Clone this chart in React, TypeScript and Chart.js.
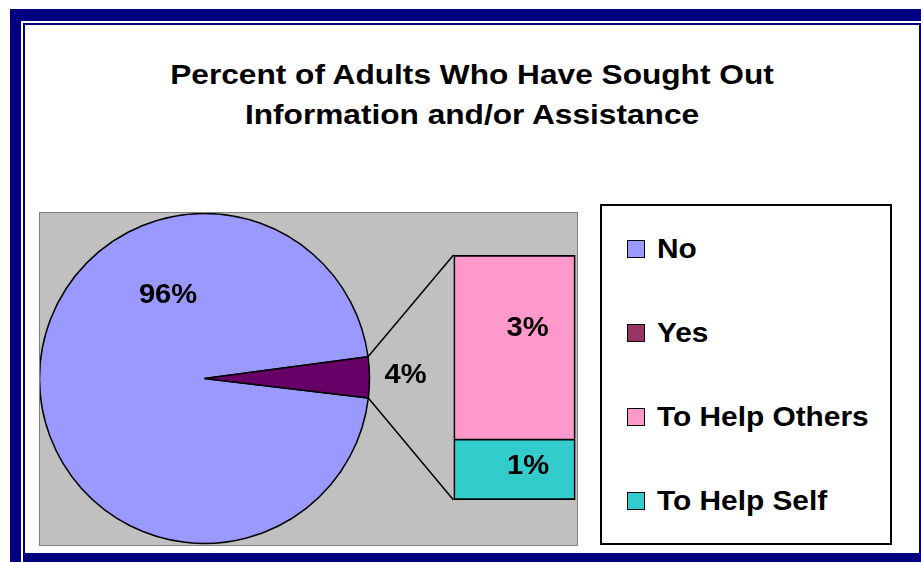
import React, { useEffect, useRef } from 'react';
import { Chart, registerables } from 'chart.js';
Chart.register(...registerables);

const titleLines = ['Percent of Adults Who Have Sought Out', 'Information and/or Assistance'];
const pieLabels = ['No', 'Yes'];
const pieValues = [96, 4];
const pieColors = ['#9999FF', '#660066'];
const barLabels = ['To Help Self', 'To Help Others'];
const barValues = [1, 3];
const barColors = ['#33CCCC', '#FF99CC'];
const legendLabels = ['No', 'Yes', 'To Help Others', 'To Help Self'];
const legendColors = ['#9999FF', '#993366', '#FF99CC', '#33CCCC'];

const FONT = '"Liberation Sans", Arial, Helvetica, sans-serif';
const NAVY = '#000080';
const PLOT_W = 537;
const PLOT_H = 332;

const pct = (v: number) => `${Math.round(v)}%`;

function drawLabel(ctx: CanvasRenderingContext2D, text: string, x: number, y: number) {
  ctx.save();
  ctx.font = `bold 28px ${FONT}`;
  ctx.fillStyle = '#000';
  ctx.textAlign = 'center';
  ctx.textBaseline = 'alphabetic';
  ctx.translate(x, y + 10);
  ctx.scale(1.04, 1);
  ctx.fillText(text, 0, 0);
  ctx.restore();
}

export default function App() {
  const pieRef = useRef<HTMLCanvasElement>(null);
  const barRef = useRef<HTMLCanvasElement>(null);

  useEffect(() => {
    if (!pieRef.current || !barRef.current) return;
    const pieLabelPlugin = {
      id: 'pieLabels',
      afterDatasetsDraw(chart: any) {
        const ctx = chart.ctx;
        const arcs = chart.getDatasetMeta(0).data;
        const p = arcs[1].getProps(['x', 'y', 'outerRadius', 'startAngle', 'endAngle'], true);
        drawLabel(ctx, pct(pieValues[0]), p.x - 0.221 * p.outerRadius, p.y - 0.518 * p.outerRadius);
        const mid = (p.startAngle + p.endAngle) / 2;
        const d = p.outerRadius + 36;
        drawLabel(ctx, pct(pieValues[1]), p.x + d * Math.cos(mid), p.y + d * Math.sin(mid) - 4);
      },
    };
    const pie = new Chart(pieRef.current, {
      type: 'pie',
      data: {
        labels: pieLabels,
        datasets: [
          {
            data: pieValues,
            backgroundColor: pieColors,
            borderColor: '#000',
            borderWidth: 1.5,
          },
        ],
      },
      options: {
        responsive: false,
        animation: false,
        events: [],
        rotation: 96.8,
        radius: 165,
        layout: { padding: { left: 0, top: 0, right: 208, bottom: 1 } },
        plugins: { legend: { display: false }, tooltip: { enabled: false } },
      } as any,
      plugins: [pieLabelPlugin],
    });

    const barPlugin = {
      id: 'barExtras',
      afterDatasetsDraw(chart: any) {
        const ctx = chart.ctx;
        const sp = chart.getDatasetMeta(0).data[0].getProps(['x', 'y', 'base', 'width'], true);
        const op = chart.getDatasetMeta(1).data[0].getProps(['x', 'y', 'base', 'width'], true);
        const left = sp.x - sp.width / 2;
        const a = pie.getDatasetMeta(0).data[1].getProps(['x', 'y', 'outerRadius', 'startAngle', 'endAngle'], true) as any;
        ctx.save();
        ctx.strokeStyle = '#000';
        ctx.lineWidth = 1.5;
        ctx.beginPath();
        ctx.moveTo(a.x + a.outerRadius * Math.cos(a.startAngle), a.y + a.outerRadius * Math.sin(a.startAngle));
        ctx.lineTo(left, op.y);
        ctx.moveTo(a.x + a.outerRadius * Math.cos(a.endAngle), a.y + a.outerRadius * Math.sin(a.endAngle));
        ctx.lineTo(left, sp.base);
        ctx.stroke();
        ctx.restore();
        drawLabel(ctx, pct(barValues[1]), op.x + 13, (op.y + op.base) / 2 - 21);
        drawLabel(ctx, pct(barValues[0]), sp.x + 13.5, (sp.y + sp.base) / 2 - 5);
      },
    };
    const total = barValues.reduce((s, v) => s + v, 0);
    const bar = new Chart(barRef.current, {
      type: 'bar',
      data: {
        labels: [''],
        datasets: barLabels.map((l, i) => ({
          label: l,
          data: [barValues[i]],
          backgroundColor: barColors[i],
          borderColor: '#000',
          borderWidth: 2,
          borderSkipped: i === 0 ? false : 'start',
          categoryPercentage: 1,
          barPercentage: 1,
        })),
      },
      options: {
        responsive: false,
        animation: false,
        events: [],
        layout: { padding: { left: 413.5, right: 1.5, top: 42, bottom: 45 } },
        scales: {
          x: { stacked: true, display: false },
          y: { stacked: true, display: false, min: 0, max: total },
        },
        plugins: { legend: { display: false }, tooltip: { enabled: false } },
      } as any,
      plugins: [barPlugin],
    });
    return () => {
      bar.destroy();
      pie.destroy();
    };
  }, []);

  return (
    <div style={{ position: 'absolute', left: 0, top: 0, width: 921, height: 562, overflow: 'hidden', background: '#fff', fontFamily: FONT }}>
      <div style={{ position: 'absolute', left: 10, top: 9, width: 1000, height: 600, background: NAVY }} />
      <div style={{ position: 'absolute', left: 21, top: 21, width: 1000, height: 600, background: '#fff' }} />
      <div style={{ position: 'absolute', left: 23, top: 23, width: 1000, height: 600, background: NAVY }} />
      <div style={{ position: 'absolute', left: 25, top: 25, width: 894, height: 528, background: '#fff' }} />
      <div style={{ position: 'absolute', left: 25, top: 55, width: 894, textAlign: 'center', fontWeight: 'bold', fontSize: 28, lineHeight: '40px', color: '#000' }}>
        {titleLines.map((t) => (
          <div key={t} style={{ transform: 'scaleX(1.13)', transformOrigin: 'center', whiteSpace: 'nowrap' }}>{t}</div>
        ))}
      </div>
      <div style={{ position: 'absolute', left: 39, top: 212, width: PLOT_W + 2, height: PLOT_H + 2, boxSizing: 'border-box', border: '1px solid #808080', background: '#C0C0C0' }}>
        <canvas ref={pieRef} width={PLOT_W} height={PLOT_H} style={{ position: 'absolute', left: 0, top: 0, width: PLOT_W, height: PLOT_H }} />
        <canvas ref={barRef} width={PLOT_W} height={PLOT_H} style={{ position: 'absolute', left: 0, top: 0, width: PLOT_W, height: PLOT_H }} />
      </div>
      <div style={{ position: 'absolute', left: 600, top: 204, width: 292, height: 341, boxSizing: 'border-box', border: '2px solid #000', background: '#fff' }}>
        {legendLabels.map((l, i) => (
          <div key={l} style={{ position: 'absolute', left: 0, top: 28 + 84 * i, height: 30, width: 288 }}>
            <div style={{ position: 'absolute', left: 25, top: 6, width: 18, height: 18, boxSizing: 'border-box', border: '1.5px solid #000', background: legendColors[i] }} />
            <div style={{ position: 'absolute', left: 55, top: 0, height: 30, lineHeight: '30px', fontSize: 27, fontWeight: 'bold', color: '#000', whiteSpace: 'nowrap', transform: 'scaleX(1.105)', transformOrigin: 'left center' }}>{l}</div>
          </div>
        ))}
      </div>
    </div>
  );
}
